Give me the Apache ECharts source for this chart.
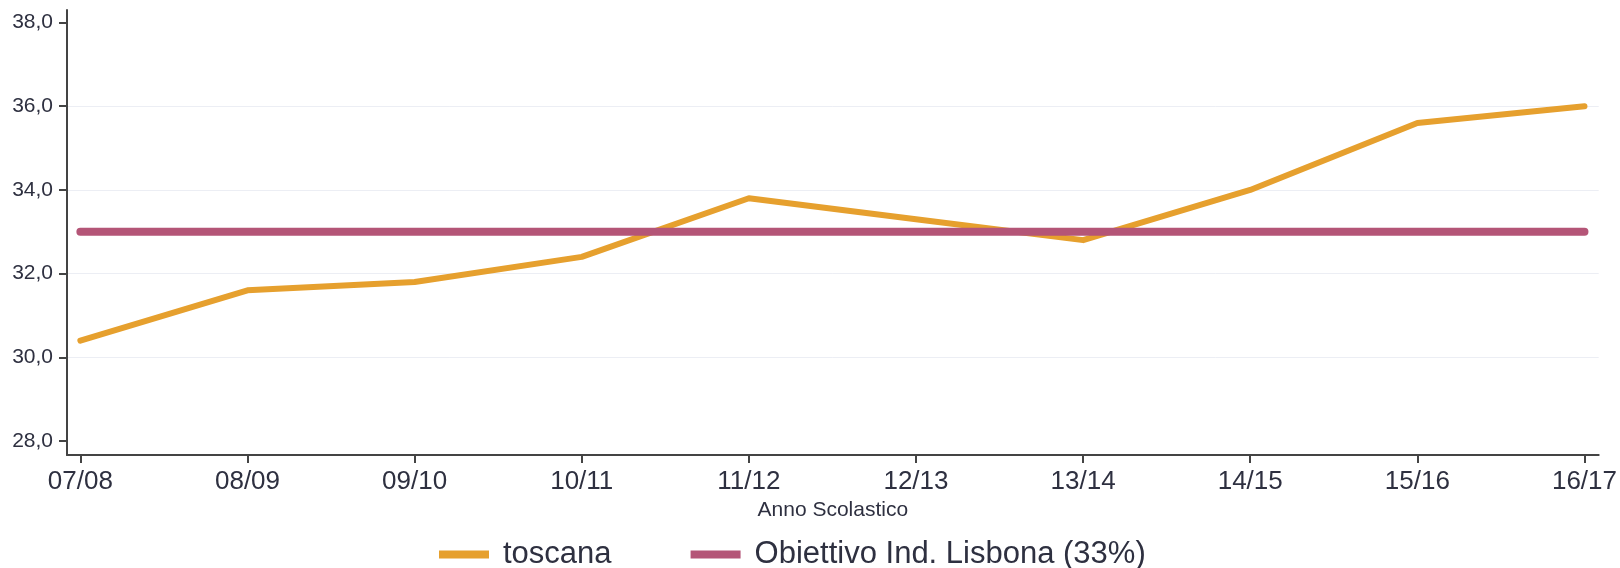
<!DOCTYPE html>
<html>
<head>
<meta charset="utf-8">
<script src="https://cdn.jsdelivr.net/npm/echarts@6/dist/echarts.min.js"></script>
<style>
  html, body { margin: 0; padding: 0; background: #fff; }
  #chart { width: 1620px; height: 568px; }
</style>
</head>
<body>
<div id="chart"></div>
<script>
// anni scolastici
const categories = ['07/08', '08/09', '09/10', '10/11', '11/12', '12/13', '13/14', '14/15', '15/16', '16/17']
const toscana = [30.4, 31.6, 31.8, 32.4, 33.8, 33.3, 32.8, 34.0, 35.6, 36.0]
const lisbona = [33, 33, 33, 33, 33, 33, 33, 33, 33, 33]
const yTicks = [28, 30, 32, 34, 36, 38]
const xTicks = [0, 1, 2, 3, 4, 5, 6, 7, 8, 9]

const font = "'Liberation Sans', Arial, sans-serif"
const textColor = '#2e3040'
const gridColor = '#eceef4'

const chart = echarts.init(document.getElementById('chart'))

const toPairs = arr => arr.map((v, i) => [i, v])

const option = {
  animation: false,
  grid: { left: 67, right: 18, top: 10, bottom: 113 },
  legend: {
    left: 434,
    top: 534,
    icon: 'rect',
    itemWidth: 50,
    itemHeight: 8,
    itemGap: 79,
    textStyle: { fontFamily: font, fontSize: 31, color: textColor, padding: [0, 0, 0, 9] },
    data: ['toscana', 'Obiettivo Ind. Lisbona (33%)']
  },
  xAxis: {
    type: 'value',
    min: -0.08,
    max: 9.085,
    name: 'Anno Scolastico',
    nameLocation: 'middle',
    nameGap: 38,
    nameTextStyle: { fontFamily: font, fontSize: 21, color: textColor },
    axisLine: { onZero: false, lineStyle: { color: '#444', width: 2 } },
    axisTick: { customValues: xTicks, length: 8, lineStyle: { color: '#444', width: 2 } },
    axisLabel: {
      customValues: xTicks,
      margin: 14,
      fontFamily: font,
      fontSize: 26,
      color: textColor,
      formatter: v => categories[Math.round(v)]
    },
    splitLine: { show: false }
  },
  yAxis: {
    type: 'value',
    min: 27.665,
    max: 38.3,
    axisLine: { show: true, onZero: false, lineStyle: { color: '#444', width: 2 } },
    axisTick: { show: true, customValues: yTicks, length: 8, lineStyle: { color: '#444', width: 2 } },
    axisLabel: {
      customValues: yTicks,
      margin: 14,
      fontFamily: font,
      fontSize: 21,
      color: textColor,
      formatter: v => v.toFixed(1).replace('.', ',')
    },
    // niente griglia su 28 e 38
    splitLine: {
      show: true,
      lineStyle: { color: ['transparent', gridColor, gridColor, gridColor, gridColor, 'transparent'], width: 1 }
    }
  },
  series: [
    {
      name: 'toscana',
      type: 'line',
      data: toPairs(toscana),
      symbol: 'none',
      color: '#e6a02e',
      lineStyle: { width: 6, color: '#e6a02e', cap: 'round', join: 'round' },
      z: 3
    },
    {
      name: 'Obiettivo Ind. Lisbona (33%)',
      type: 'line',
      data: toPairs(lisbona),
      symbol: 'none',
      color: '#b45577',
      lineStyle: { width: 8, color: '#b45577', cap: 'round' },
      z: 4
    }
  ]
}

chart.setOption(option)
</script>
</body>
</html>
